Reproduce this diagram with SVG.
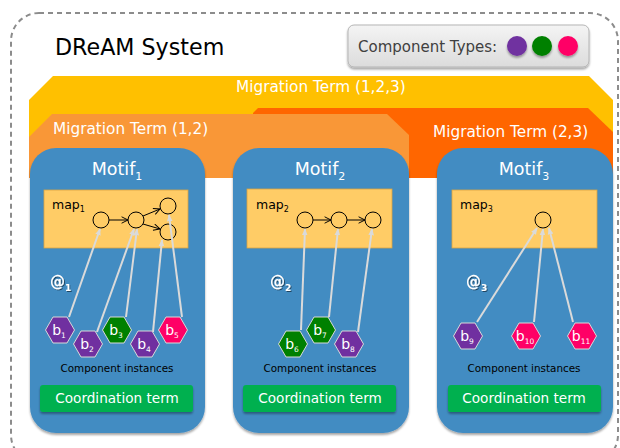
<svg xmlns="http://www.w3.org/2000/svg" width="620" height="448" viewBox="0 0 620 448">
<style>
text{font-family:"DejaVu Sans","Liberation Sans",sans-serif}
.band{font-size:15.3px;fill:#fff}
.motif{fill:#438cc2}
.mt{font-size:17.5px;fill:#fff;text-anchor:middle}
.map{fill:#ffcc66;stroke:#d9a441;stroke-width:0.8}
.ml{font-size:12.5px;fill:#000}
.c{fill:none;stroke:#000;stroke-width:1}
.ar{stroke:#000;stroke-width:1;fill:none;marker-end:url(#ah)}
.cn{stroke:#dadada;stroke-width:2;fill:none;marker-end:url(#gh)}
.at{font-size:15px;font-weight:bold;fill:#fff}
.hx{stroke:#d8d8d8;stroke-width:1}
.hl{font-size:14px;fill:#fff;text-anchor:middle}
.ci{font-size:10.4px;fill:#000;text-anchor:middle}
.ct{fill:#00b050}
.ctt{font-size:13.6px;fill:#fff;text-anchor:middle}
</style>
<defs>
<marker id="ah" viewBox="0 0 10 10" refX="9" refY="5" markerWidth="8" markerHeight="8" orient="auto" markerUnits="userSpaceOnUse"><path d="M1,1 L9,5 L1,9" fill="none" stroke="#000" stroke-width="1.2"/></marker>
<marker id="gh" viewBox="0 0 10 10" refX="9" refY="5" markerWidth="7" markerHeight="7" orient="auto" markerUnits="userSpaceOnUse"><path d="M0,1 L10,5 L0,9 z" fill="#dadada"/></marker>
<path id="hex" d="M-14.5,0 L-7,-13 L7,-13 L14.5,0 L7,13 L-7,13 Z"/>
<linearGradient id="lg" x1="0" y1="0" x2="0" y2="1"><stop offset="0" stop-color="#f4f4f4"/><stop offset="1" stop-color="#dcdcdc"/></linearGradient>
<filter id="sh" x="-10%" y="-10%" width="120%" height="130%"><feDropShadow dx="0" dy="2" stdDeviation="1.2" flood-color="#000" flood-opacity="0.35"/></filter>
<filter id="ts" x="-20%" y="-20%" width="140%" height="150%"><feDropShadow dx="1" dy="1" stdDeviation="0.6" flood-color="#000" flood-opacity="0.5"/></filter>
</defs>
<rect x="11" y="13" width="607" height="450" rx="28" fill="none" stroke="#8c8c8c" stroke-width="2" stroke-dasharray="5,4"/>
<g id="title"><text x="55" y="55" font-size="22.2" fill="#000">DReAM System</text></g>
<g id="legend">
<rect x="348" y="25" width="241" height="42" rx="6" fill="url(#lg)" stroke="#b5b5b5" filter="url(#sh)"/>
<text x="358" y="52" font-size="15" fill="#404040">Component Types:</text>
<circle cx="517" cy="46" r="10" fill="#7030a0" filter="url(#sh)"/>
<circle cx="542" cy="46" r="10" fill="#008000" filter="url(#sh)"/>
<circle cx="568" cy="46" r="10" fill="#ff0066" filter="url(#sh)"/>
</g>
<g id="mig123">
<path d="M53,76 L589,76 L613,100 L613,178 L29,178 L29,100 Z" fill="#ffc000"/>
<text class="band" x="236" y="92">Migration Term (1,2,3)</text>
</g>
<g id="mig23">
<path d="M258,108 L588,108 L613,132 L613,178 L253,178 L253,113 Z" fill="#ff6600"/>
<text class="band" x="433" y="137">Migration Term (2,3)</text>
</g>
<g id="mig12">
<path d="M52,114 L387,114 L409,135 L409,178 L29,178 L29,137 Z" fill="#f99737"/>
<text class="band" x="53" y="134">Migration Term (1,2)</text>
</g>
<g id="motif1">
<rect class="motif" x="30" y="148" width="175" height="285" rx="26" filter="url(#sh)"/>
<text class="mt" x="117" y="175">Motif<tspan font-size="11" dy="5">1</tspan></text>
<rect class="map" x="44" y="190" width="144" height="58"/>
<text class="ml" x="52" y="209">map<tspan font-size="8" dy="3">1</tspan></text>
<circle class="c" cx="101" cy="220" r="8"/>
<circle class="c" cx="136" cy="220" r="8"/>
<circle class="c" cx="168" cy="206" r="8"/>
<circle class="c" cx="168" cy="232" r="8"/>
<path class="ar" d="M109,220 L128,220"/>
<path class="ar" d="M143,216 L160,209"/>
<path class="ar" d="M143,224 L160,229"/>
<text class="at" x="50" y="287" filter="url(#ts)">@<tspan font-size="9" dy="4">1</tspan></text>
<text class="ci" x="117" y="372">Component instances</text>
<rect class="ct" x="40" y="385" width="153" height="27" rx="3" filter="url(#sh)"/>
<text class="ctt" x="117" y="403">Coordination term</text>
</g>
<g id="motif2">
<rect class="motif" x="233" y="148" width="176" height="285" rx="26" filter="url(#sh)"/>
<text class="mt" x="320" y="175">Motif<tspan font-size="11" dy="5">2</tspan></text>
<rect class="map" x="247" y="189" width="145" height="59"/>
<text class="ml" x="256" y="209">map<tspan font-size="8" dy="3">2</tspan></text>
<circle class="c" cx="305" cy="220" r="8"/>
<circle class="c" cx="339" cy="220" r="8"/>
<circle class="c" cx="373" cy="220" r="8"/>
<path class="ar" d="M313,220 L331,220"/>
<path class="ar" d="M347,220 L365,220"/>
<text class="at" x="270" y="287" filter="url(#ts)">@<tspan font-size="9" dy="4">2</tspan></text>
<text class="ci" x="320" y="372">Component instances</text>
<rect class="ct" x="243" y="385" width="153" height="27" rx="3" filter="url(#sh)"/>
<text class="ctt" x="320" y="403">Coordination term</text>
</g>
<g id="motif3">
<rect class="motif" x="437" y="148" width="176" height="285" rx="26" filter="url(#sh)"/>
<text class="mt" x="524" y="175">Motif<tspan font-size="11" dy="5">3</tspan></text>
<rect class="map" x="452" y="190" width="145" height="58"/>
<text class="ml" x="460" y="209">map<tspan font-size="8" dy="3">3</tspan></text>
<circle class="c" cx="543" cy="220" r="8"/>
<text class="at" x="466" y="287" filter="url(#ts)">@<tspan font-size="9" dy="4">3</tspan></text>
<text class="ci" x="524" y="372">Component instances</text>
<rect class="ct" x="448" y="385" width="153" height="27" rx="3" filter="url(#sh)"/>
<text class="ctt" x="524" y="403">Coordination term</text>
</g>
<g id="connectors">
<path class="cn" d="M69,317 L100,229"/>
<path class="cn" d="M97,332 L134,229"/>
<path class="cn" d="M126,317 L137,229"/>
<path class="cn" d="M153,332 L162,240"/>
<path class="cn" d="M182,317 L169,215"/>
<path class="cn" d="M301,330 L305,229"/>
<path class="cn" d="M329,317 L338,229"/>
<path class="cn" d="M358,332 L372,229"/>
<path class="cn" d="M477,322 L537,228"/>
<path class="cn" d="M534,322 L543,229"/>
<path class="cn" d="M573,322 L549,228"/>
</g>
<g id="b1"><use href="#hex" x="60" y="330" fill="#7030a0" class="hx"/><text class="hl" x="59" y="335">b<tspan font-size="7.5" dy="3">1</tspan></text></g>
<g id="b2"><use href="#hex" x="88" y="344" fill="#7030a0" class="hx"/><text class="hl" x="87" y="349">b<tspan font-size="7.5" dy="3">2</tspan></text></g>
<g id="b3"><use href="#hex" x="117" y="330" fill="#008000" class="hx"/><text class="hl" x="116" y="335">b<tspan font-size="7.5" dy="3">3</tspan></text></g>
<g id="b4"><use href="#hex" x="145" y="344" fill="#7030a0" class="hx"/><text class="hl" x="144" y="349">b<tspan font-size="7.5" dy="3">4</tspan></text></g>
<g id="b5"><use href="#hex" x="173" y="330" fill="#ff0066" class="hx"/><text class="hl" x="172" y="335">b<tspan font-size="7.5" dy="3">5</tspan></text></g>
<g id="b6"><use href="#hex" x="293" y="344" fill="#008000" class="hx"/><text class="hl" x="292" y="349">b<tspan font-size="7.5" dy="3">6</tspan></text></g>
<g id="b7"><use href="#hex" x="321" y="330" fill="#008000" class="hx"/><text class="hl" x="320" y="335">b<tspan font-size="7.5" dy="3">7</tspan></text></g>
<g id="b8"><use href="#hex" x="349" y="344" fill="#7030a0" class="hx"/><text class="hl" x="348" y="349">b<tspan font-size="7.5" dy="3">8</tspan></text></g>
<g id="b9"><use href="#hex" x="468" y="336" fill="#7030a0" class="hx"/><text class="hl" x="467" y="341">b<tspan font-size="7.5" dy="3">9</tspan></text></g>
<g id="b10"><use href="#hex" x="526" y="336" fill="#ff0066" class="hx"/><text class="hl" x="525" y="341">b<tspan font-size="7.5" dy="3">10</tspan></text></g>
<g id="b11"><use href="#hex" x="582" y="336" fill="#ff0066" class="hx"/><text class="hl" x="581" y="341">b<tspan font-size="7.5" dy="3">11</tspan></text></g>
</svg>
